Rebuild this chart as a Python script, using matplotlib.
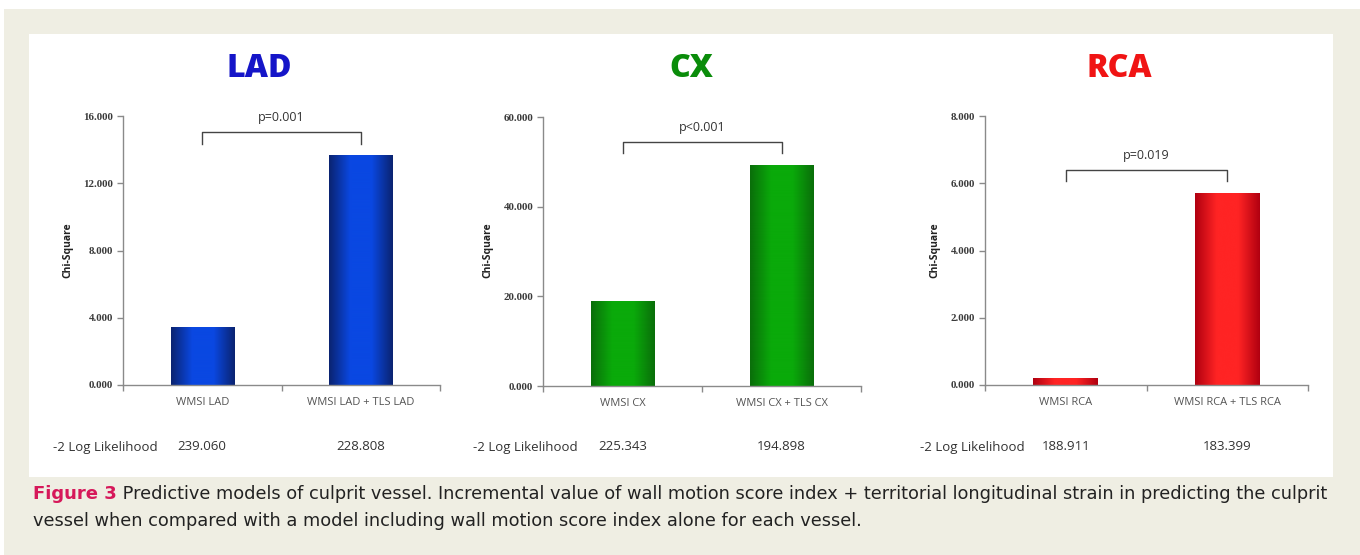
import numpy as np
import matplotlib
matplotlib.use("Agg")
import matplotlib.pyplot as plt
from matplotlib.colors import LinearSegmentedColormap
from matplotlib.patches import Rectangle

# ---------------- data ----------------
panel_titles = ["LAD", "CX", "RCA"]
categories_lad = ["WMSI LAD", "WMSI LAD + TLS LAD"]
categories_cx = ["WMSI CX", "WMSI CX + TLS CX"]
categories_rca = ["WMSI RCA", "WMSI RCA + TLS RCA"]
chi_lad = [3.45, 13.66]
chi_cx = [18.95, 49.3]
chi_rca = [0.21, 5.71]
loglik_lad = ["239.060", "228.808"]
loglik_cx = ["225.343", "194.898"]
loglik_rca = ["188.911", "183.399"]
pvals = ["p=0.001", "p<0.001", "p=0.019"]
ymax = [16, 60, 8]
yticks_lad = [0, 4, 8, 12, 16]
yticks_cx = [0, 20, 40, 60]
yticks_rca = [0, 2, 4, 6, 8]
caption_label = "Figure 3"
caption_text1 = (" Predictive models of culprit vessel. Incremental value of wall motion score index + "
                 "territorial longitudinal strain in predicting the culprit")
caption_text2 = "vessel when compared with a model including wall motion score index alone for each vessel."

# ---------------- styles ----------------
title_colors = ["#1515c8", "#0a8c0a", "#f01414"]
bar_edge_colors = ["#0b2370", "#0a6e0a", "#b00010"]
bar_mid_colors = ["#0a48e2", "#0aaa0a", "#ff2424"]
BEIGE = "#efeee3"

fig = plt.figure(figsize=(13.6, 5.55), dpi=100)
fig.patch.set_facecolor("white")
W, H = 1360, 555

def px(x0, y0, x1, y1):
    return [x0 / W, 1 - y1 / H, (x1 - x0) / W, (y1 - y0) / H]

# background beige and white panel
bg = fig.add_axes([0, 0, 1, 1], zorder=-10)
bg.set_xlim(0, W); bg.set_ylim(H, 0); bg.axis("off")
bg.add_patch(Rectangle((4, 9), W - 4, H - 9, facecolor=BEIGE, edgecolor="none"))
bg.add_patch(Rectangle((29, 34), 1333 - 29, 477 - 34, facecolor="white", edgecolor="none"))

axes_px = [(123, 116, 440, 385), (543, 117, 861, 386), (985, 116, 1308, 385)]
title_x = [259, 691, 1119]
cats = [categories_lad, categories_cx, categories_rca]
vals = [chi_lad, chi_cx, chi_rca]
logs = [loglik_lad, loglik_cx, loglik_rca]
ticks = [yticks_lad, yticks_cx, yticks_rca]
ylabel_x = [68, 488, 935]
loglabel_x = [53, 473, 920]

axis_gray = "#8a8a8a"

for i in range(3):
    x0, y0, x1, y1 = axes_px[i]
    ax = fig.add_axes(px(x0, y0, x1, y1))
    ax.set_facecolor("none")
    ax.set_xlim(-0.5, 1.5)
    ax.set_ylim(0, ymax[i])
    cmap = LinearSegmentedColormap.from_list(
        "g", [bar_edge_colors[i], bar_mid_colors[i], bar_mid_colors[i], bar_edge_colors[i]])
    xs = np.arange(len(cats[i]))
    bars = ax.bar(xs, vals[i], width=0.4, color="none", edgecolor="none")
    grad = np.linspace(0, 1, 256).reshape(1, -1)
    for b in bars:
        bx, by, bw, bh = b.get_x(), b.get_y(), b.get_width(), b.get_height()
        im = ax.imshow(grad, cmap=cmap, aspect="auto",
                       extent=[bx, bx + bw, by, by + bh], zorder=2, interpolation="bicubic")
        im.set_clip_path(b)
    ax.set_xlim(-0.5, 1.5)
    ax.set_ylim(0, ymax[i])

    for s in ["top", "right"]:
        ax.spines[s].set_visible(False)
    for s in ["left", "bottom"]:
        ax.spines[s].set_color(axis_gray)
        ax.spines[s].set_linewidth(1.0)
    ax.set_yticks(ticks[i])
    ax.set_yticklabels([f"{t:.3f}" for t in ticks[i]], family="Liberation Serif",
                       fontsize=7.8, fontweight="bold", color="#3a3a3a")
    ax.tick_params(axis="y", length=4, width=1, color=axis_gray, pad=3)
    ax.set_xticks([-0.5, 0.5, 1.5])
    ax.set_xticklabels([])
    ax.tick_params(axis="x", length=4, width=1, color=axis_gray)
    for j, c in enumerate(cats[i]):
        ax.text(xs[j], -0.045 * ymax[i], c, ha="center", va="top",
                fontsize=8, color="#555555", family="Open Sans")

    # bracket
    top = max(vals[i]) + 0.085 * ymax[i]
    drop = 0.041 * ymax[i]
    ax.plot([0, 0, 1, 1], [top - drop, top, top, top - drop], color="#444444", lw=1.0,
            clip_on=False, zorder=3)
    ax.text(0.5, top + 0.056 * ymax[i], pvals[i], ha="center", va="center",
            fontsize=9, color="#333333", family="Open Sans")

    # title
    fig.text(title_x[i] / W, 1 - 69 / H, panel_titles[i],
             ha="center", va="center", fontsize=23, fontweight="heavy",
             color=title_colors[i], family="Open Sans")
    # y label
    fig.text(ylabel_x[i] / W, 1 - 250 / H, "Chi-Square", rotation=90, ha="center",
             va="center", fontsize=7.5, fontweight="bold", color="#222222", family="Open Sans")
    # log likelihood row
    fig.text(loglabel_x[i] / W, 1 - 447 / H, "-2 Log Likelihood", ha="left", va="center",
             fontsize=9.5, color="#333333", family="Open Sans")
    for j in range(2):
        xd = ax.transData.transform((xs[j], 0))[0]
        fig.text(xd / fig.bbox.width, 1 - 447 / H, logs[i][j], ha="center", va="center",
                 fontsize=9.5, color="#333333", family="Open Sans")

# caption
cap_family = ["DejaVu Sans"]
t = fig.text(33 / W, 1 - 494 / H, caption_label, ha="left", va="center", fontsize=13,
             fontweight="bold", color="#d6185a", family=cap_family)
fig.canvas.draw()
bb = t.get_window_extent()
fig.text(bb.x1 / W, 1 - 494 / H, caption_text1, ha="left", va="center", fontsize=12.75,
         color="#222222", family=cap_family)
fig.text(33 / W, 1 - 521 / H, caption_text2, ha="left", va="center", fontsize=12.75,
         color="#222222", family=cap_family)

fig.savefig("out.png", dpi=100, facecolor="white")
